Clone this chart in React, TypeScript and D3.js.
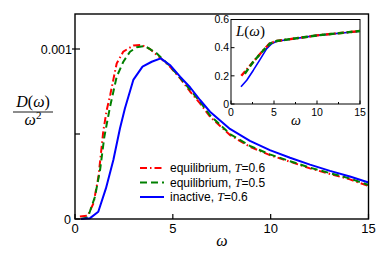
import React from "react";
import * as d3 from "d3";

// Main plot: D(omega)/omega^2 (values in units of 1e-3)
const eq06W = [0.25, 0.65, 0.95, 1.2, 1.45, 1.62, 1.8, 1.96, 2.13, 2.47, 2.98, 3.4, 3.83, 4.34, 4.85, 5.37, 5.88, 6.39, 6.9, 7.92, 8.94, 9.96, 10.99, 12.01, 13.03, 14.05, 15];
const eq06D = [0.015, 0.02, 0.094, 0.25, 0.52, 0.64, 0.73, 0.82, 0.915, 0.985, 1.02, 1.024, 1.0, 0.95, 0.896, 0.828, 0.75, 0.68, 0.602, 0.494, 0.425, 0.376, 0.337, 0.298, 0.265, 0.233, 0.194];

const eq05W = [0.3, 0.66, 1.02, 1.28, 1.5, 1.79, 2.13, 2.47, 2.81, 3.15, 3.58, 4.17, 4.85, 5.37, 5.88, 6.39, 6.9, 7.92, 8.94, 9.96, 10.99, 12.01, 13.03, 14.05, 15];
const eq05D = [0.0, 0.01, 0.131, 0.288, 0.484, 0.66, 0.837, 0.925, 0.984, 1.01, 1.018, 0.975, 0.9, 0.832, 0.76, 0.69, 0.61, 0.5, 0.43, 0.38, 0.34, 0.302, 0.27, 0.238, 0.2];

const inactW = [0.3, 0.77, 1.19, 1.58, 1.96, 2.3, 2.55, 2.98, 3.45, 3.92, 4.38, 4.85, 5.37, 5.88, 6.39, 6.9, 7.92, 8.94, 9.96, 10.99, 12.01, 13.03, 14.05, 15];
const inactD = [0.0, 0.005, 0.043, 0.18, 0.347, 0.534, 0.65, 0.818, 0.896, 0.925, 0.945, 0.906, 0.837, 0.775, 0.7, 0.631, 0.53, 0.46, 0.405, 0.36, 0.32, 0.283, 0.25, 0.215];

// Inset: L(omega)
const insEq06W = [1.2, 2.6, 3.8, 4.5, 5.3, 10, 15];
const insEq06L = [0.2, 0.3, 0.385, 0.43, 0.447, 0.487, 0.518];
const insEq05W = [1.6, 2.6, 3.8, 4.5, 5.3, 10, 15];
const insEq05L = [0.215, 0.3, 0.383, 0.428, 0.447, 0.487, 0.518];
const insInactW = [1.16, 1.83, 2.6, 3.37, 4.15, 4.73, 5.31, 10, 15];
const insInactL = [0.122, 0.169, 0.24, 0.315, 0.393, 0.428, 0.445, 0.487, 0.517];

const mainXTicks = [0, 5, 10, 15];
const mainYTicks = [0, 0.0005, 0.001];
const mainYLabels = ["0", "", "0.001"];
const insXTicks = [0, 5, 10, 15];
const insXMinor = [2.5, 7.5, 12.5];
const insYTicks = [0, 0.2, 0.4, 0.6];

const legendLabels = ["equilibrium, ", "equilibrium, ", "inactive, "];
const legendT = ["0.6", "0.5", "0.6"];

const SANS = "'Liberation Sans', Arial, sans-serif";
const SERIF = "'Liberation Serif', 'Times New Roman', serif";

const series = [
  { w: eq06W, v: eq06D, color: "#ff0000", dash: "7,3,1.5,3", width: 2 },
  { w: eq05W, v: eq05D, color: "#008000", dash: "7,4", width: 2 },
  { w: inactW, v: inactD, color: "#0000ff", dash: "", width: 2 },
];

export default function App() {
  const x = d3.scaleLinear().domain([0, 15]).range([75, 368.5]);
  const y = d3.scaleLinear().domain([0, 0.001]).range([219, 49]);
  const top = 14;

  const xi = d3.scaleLinear().domain([0, 15]).range([231, 360]);
  const yi = d3.scaleLinear().domain([0, 0.6]).range([104, 19.5]);

  const line = d3
    .line<[number, number]>()
    .x((d) => x(d[0]))
    .y((d) => y(d[1] * 1e-3));
  const lineI = d3
    .line<[number, number]>()
    .x((d) => xi(d[0]))
    .y((d) => yi(d[1]));

  const insSeries = [
    { w: insInactW, v: insInactL, color: "#0000ff", dash: "", width: 1.6 },
    { w: insEq06W, v: insEq06L, color: "#ff0000", dash: "6,2.5,1.5,2.5", width: 2.4 },
    { w: insEq05W, v: insEq05L, color: "#008000", dash: "6,3", width: 2.4 },
  ];

  const legY = [168, 182.5, 197];

  return (
    <svg
      width={381}
      height={260}
      style={{ position: "absolute", left: 0, top: 0, background: "#fff" }}
    >
      <rect x={0} y={0} width={381} height={260} fill="#fff" />
      {/* main curves */}
      <g clipPath="url(#mainclip)">
        {series.map((s, i) => (
          <path
            key={i}
            d={line(s.w.map((w, j) => [w, s.v[j]] as [number, number])) || ""}
            fill="none"
            stroke={s.color}
            strokeWidth={s.width}
            strokeDasharray={s.dash}
            strokeLinejoin="round"
          />
        ))}
      </g>
      <defs>
        <clipPath id="mainclip">
          <rect x={75} y={top} width={293.5} height={219 - top + 2} />
        </clipPath>
      </defs>
      {/* main frame */}
      <rect
        x={75}
        y={top}
        width={x(15) - 75}
        height={219 - top}
        fill="none"
        stroke="#000"
        strokeWidth={1.4}
      />
      {/* main ticks */}
      {mainXTicks.map((t, i) => (
        <g key={"mx" + i}>
          <line x1={x(t)} x2={x(t)} y1={219} y2={214} stroke="#000" strokeWidth={1.2} />
          <text
            x={x(t)}
            y={233}
            fontFamily={SANS}
            fontSize={13}
            textAnchor="middle"
          >
            {t}
          </text>
        </g>
      ))}
      {mainYTicks.map((t, i) => (
        <g key={"my" + i}>
          <line x1={t === 0.001 ? 72 : 75} x2={80} y1={y(t)} y2={y(t)} stroke="#000" strokeWidth={1.2} />
          <text
            x={t === 0 ? 71 : 72}
            y={y(t) + 4.5}
            fontFamily={SANS}
            fontSize={12.5}
            textAnchor="end"
          >
            {mainYLabels[i]}
          </text>
        </g>
      ))}
      {/* main axis labels */}
      <text x={222} y={246} fontFamily={SERIF} fontStyle="italic" fontSize={16} textAnchor="middle">
        ω
      </text>
      <text x={33} y={107} fontFamily={SERIF} fontSize={16} textAnchor="middle">
        <tspan fontStyle="italic">D</tspan>(<tspan fontStyle="italic">ω</tspan>)
      </text>
      <line x1={13} x2={53} y1={112} y2={112} stroke="#000" strokeWidth={0.9} />
      <text x={33} y={125} fontFamily={SERIF} fontSize={16} textAnchor="middle">
        <tspan fontStyle="italic">ω</tspan>
        <tspan fontSize={11} dy={-6}>2</tspan>
      </text>

      {/* legend */}
      {series.map((s, i) => (
        <g key={"lg" + i}>
          <line
            x1={140}
            x2={164}
            y1={legY[i]}
            y2={legY[i]}
            stroke={s.color}
            strokeWidth={s.width}
            strokeDasharray={s.dash}
          />
          <text x={170} y={legY[i] + 4.3} fontFamily={SANS} fontSize={12}>
            {legendLabels[i]}
            <tspan fontFamily={SERIF} fontStyle="italic">T</tspan>
            {"=" + legendT[i]}
          </text>
        </g>
      ))}

      {/* inset */}
      <rect
        x={xi(0)}
        y={yi(0.6)}
        width={xi(15) - xi(0)}
        height={yi(0) - yi(0.6)}
        fill="#fff"
        stroke="#000"
        strokeWidth={1}
      />
      {insSeries.map((s, i) => (
        <path
          key={"is" + i}
          d={lineI(s.w.map((w, j) => [w, s.v[j]] as [number, number])) || ""}
          fill="none"
          stroke={s.color}
          strokeWidth={s.width}
          strokeDasharray={s.dash}
          strokeLinejoin="round"
        />
      ))}
      {insXTicks.map((t, i) => (
        <g key={"ix" + i}>
          <line x1={xi(t)} x2={xi(t)} y1={yi(0)} y2={yi(0) - 3.5} stroke="#000" strokeWidth={1} />
          <text x={xi(t)} y={115.5} fontFamily={SANS} fontSize={10.5} textAnchor="middle">
            {t}
          </text>
        </g>
      ))}
      {insXMinor.map((t, i) => (
        <line key={"im" + i} x1={xi(t)} x2={xi(t)} y1={yi(0)} y2={yi(0) - 2} stroke="#000" strokeWidth={1} />
      ))}
      {insYTicks.map((t, i) => (
        <g key={"iy" + i}>
          <line x1={xi(0)} x2={xi(0) + 3.5} y1={yi(t)} y2={yi(t)} stroke="#000" strokeWidth={1} />
          <text x={xi(0) - 2} y={yi(t) + 3.8} fontFamily={SANS} fontSize={10.5} textAnchor="end">
            {t === 0 ? "0" : t.toFixed(1)}
          </text>
        </g>
      ))}
      <text x={296} y={125} fontFamily={SERIF} fontStyle="italic" fontSize={14} textAnchor="middle">
        ω
      </text>
      <text x={236} y={36} fontFamily={SERIF} fontSize={15}>
        <tspan fontStyle="italic">L</tspan>(<tspan fontStyle="italic">ω</tspan>)
      </text>
    </svg>
  );
}
